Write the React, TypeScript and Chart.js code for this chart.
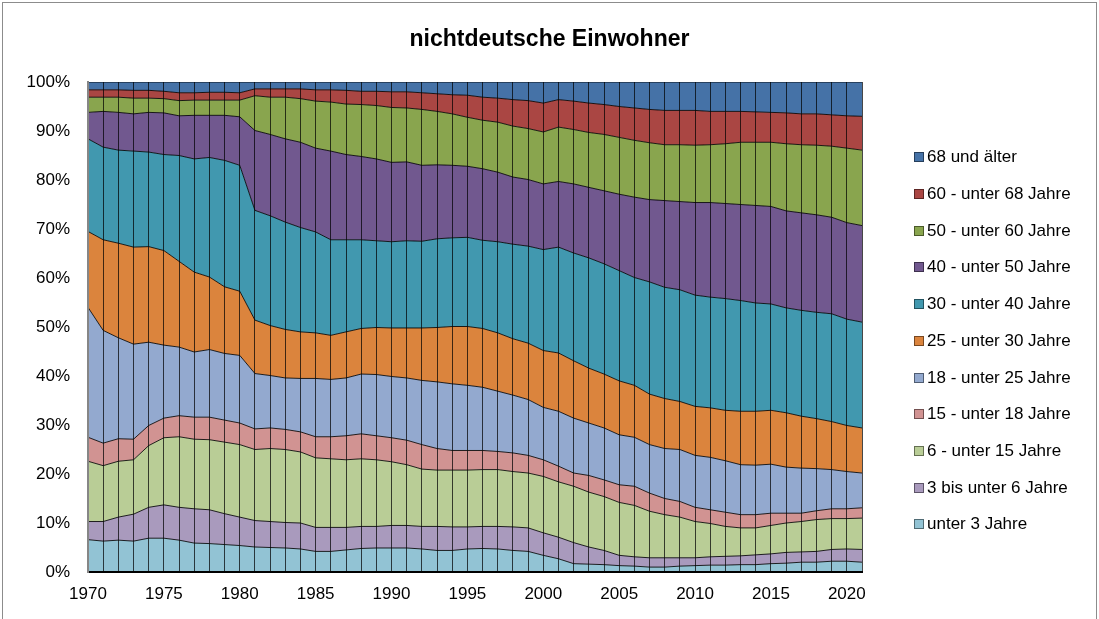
import React, { useEffect, useRef } from "react";
import { Chart, registerables } from "chart.js";

Chart.register(...registerables);

const years = [
  "1970", "1971", "1972", "1973", "1974", "1975", "1976", "1977", "1978", "1979",
  "1980", "1981", "1982", "1983", "1984", "1985", "1986", "1987", "1988", "1989",
  "1990", "1991", "1992", "1993", "1994", "1995", "1996", "1997", "1998", "1999",
  "2000", "2001", "2002", "2003", "2004", "2005", "2006", "2007", "2008", "2009",
  "2010", "2011", "2012", "2013", "2014", "2015", "2016", "2017", "2018", "2019",
  "2020", "2021",
];

const xTickLabels = ["1970", "1975", "1980", "1985", "1990", "1995", "2000", "2005", "2010", "2015", "2020"];

// Cumulative shares (%) = upper edge of each band
const cumUnter3 = [
  6.6, 6.3, 6.5, 6.3, 6.9, 6.9, 6.5, 5.9, 5.8, 5.6,
  5.4, 5.1, 5.0, 4.9, 4.7, 4.2, 4.2, 4.5, 4.8, 4.9,
  4.9, 4.9, 4.7, 4.4, 4.4, 4.7, 4.8, 4.7, 4.4, 4.2,
  3.4, 2.7, 1.7, 1.6, 1.5, 1.3, 1.2, 1.0, 1.0, 1.2,
  1.3, 1.4, 1.4, 1.5, 1.5, 1.7, 1.8, 2.0, 2.0, 2.2,
  2.2, 2.0,
];
const cum3bis6 = [
  10.3, 10.3, 11.2, 11.8, 13.2, 13.7, 13.2, 12.9, 12.7, 11.9,
  11.2, 10.5, 10.3, 10.1, 10.0, 9.1, 9.1, 9.1, 9.3, 9.3,
  9.5, 9.5, 9.3, 9.3, 9.2, 9.2, 9.3, 9.3, 9.2, 9.0,
  8.0, 7.1, 6.0, 5.1, 4.4, 3.4, 3.1, 2.9, 2.9, 2.9,
  2.9, 3.1, 3.2, 3.3, 3.5, 3.7, 4.0, 4.1, 4.2, 4.6,
  4.7, 4.6,
];
const cum6bis15 = [
  22.6, 21.7, 22.6, 22.9, 25.8, 27.4, 27.6, 27.1, 27.0, 26.5,
  26.0, 25.0, 25.2, 25.0, 24.5, 23.3, 23.1, 22.9, 23.1, 22.9,
  22.5, 21.9, 21.0, 20.8, 20.8, 20.8, 20.9, 20.9, 20.5, 20.2,
  19.5, 18.4, 17.5, 16.3, 15.4, 14.2, 13.6, 12.4, 11.7, 11.2,
  10.3, 9.9, 9.3, 9.0, 9.0, 9.5, 10.0, 10.3, 10.7, 10.9,
  10.9, 11.0,
];
const cum15bis18 = [
  27.5, 26.3, 27.2, 27.1, 29.9, 31.4, 31.9, 31.6, 31.6, 31.0,
  30.4, 29.2, 29.4, 29.1, 28.6, 27.6, 27.6, 27.8, 28.2, 27.8,
  27.4, 26.9, 26.0, 25.2, 24.8, 24.8, 24.8, 24.6, 24.3, 23.8,
  22.9, 21.6, 20.2, 19.7, 18.8, 17.8, 17.5, 16.1, 15.0, 14.4,
  13.2, 12.7, 12.2, 11.7, 11.7, 12.0, 12.0, 12.0, 12.5, 12.9,
  12.9, 13.1,
];
const cum18bis25 = [
  54.0, 49.3, 47.8, 46.5, 46.9, 46.3, 45.9, 44.9, 45.4, 44.6,
  44.2, 40.5, 40.1, 39.6, 39.5, 39.5, 39.3, 39.6, 40.4, 40.3,
  39.9, 39.6, 39.1, 38.8, 38.4, 38.1, 37.7, 36.9, 36.1, 35.2,
  33.6, 32.8, 31.4, 30.4, 29.4, 28.0, 27.5, 26.0, 25.2, 25.0,
  23.8, 23.4, 22.7, 21.9, 21.8, 22.0, 21.4, 21.2, 21.1, 20.9,
  20.5, 20.2,
];
const cum25bis30 = [
  69.5, 67.8, 67.1, 66.3, 66.4, 65.6, 63.4, 61.2, 60.2, 58.2,
  57.3, 51.4, 50.3, 49.5, 49.0, 48.8, 48.3, 49.0, 49.7, 49.9,
  49.8, 49.8, 49.8, 49.9, 50.1, 50.1, 49.7, 48.8, 47.6, 46.7,
  45.2, 44.7, 43.1, 41.6, 40.4, 39.0, 38.1, 36.3, 35.4, 34.8,
  33.8, 33.5, 33.0, 32.8, 32.8, 33.0, 32.5, 31.8, 31.3, 30.7,
  29.9, 29.4,
];
const cum30bis40 = [
  88.4, 86.7, 86.1, 85.9, 85.7, 85.2, 85.0, 84.3, 84.6, 84.0,
  83.0, 73.8, 72.7, 71.4, 70.3, 69.4, 67.8, 67.8, 67.8, 67.6,
  67.4, 67.6, 67.5, 68.0, 68.2, 68.3, 67.7, 67.4, 66.9, 66.5,
  65.8, 66.3, 65.1, 64.1, 62.9, 61.5, 60.1, 59.2, 58.1, 57.6,
  56.5, 56.1, 55.8, 55.4, 54.9, 54.7, 53.9, 53.4, 53.0, 52.7,
  51.6, 51.0,
];
const cum40bis50 = [
  93.8, 94.0, 93.8, 93.5, 93.8, 93.7, 93.1, 93.2, 93.2, 93.2,
  92.9, 90.1, 89.3, 88.4, 87.7, 86.5, 85.9, 85.2, 84.8, 84.3,
  83.6, 83.7, 83.0, 83.1, 83.0, 82.8, 82.3, 81.6, 80.6, 80.1,
  79.2, 79.7, 79.2, 78.5, 77.8, 77.1, 76.5, 76.0, 75.8, 75.6,
  75.4, 75.4, 75.2, 75.0, 74.8, 74.6, 73.7, 73.3, 72.9, 72.4,
  71.3, 70.7,
];
const cum50bis60 = [
  96.9, 96.9, 96.9, 96.7, 96.7, 96.6, 96.2, 96.3, 96.3, 96.3,
  96.3, 97.2, 96.9, 96.9, 96.6, 96.1, 95.9, 95.5, 95.4, 95.2,
  94.8, 94.7, 94.4, 94.0, 93.5, 92.8, 92.2, 91.8, 91.0, 90.5,
  89.8, 90.8, 90.3, 89.7, 89.3, 88.7, 88.1, 87.6, 87.2, 87.2,
  87.1, 87.2, 87.4, 87.7, 87.7, 87.7, 87.4, 87.2, 87.1, 86.9,
  86.5, 86.1,
];
const cum60bis68 = [
  98.4, 98.4, 98.4, 98.3, 98.3, 98.1, 97.8, 97.8, 97.9, 97.9,
  97.8, 98.6, 98.6, 98.6, 98.6, 98.4, 98.4, 98.3, 98.1, 98.1,
  98.0, 98.0, 97.8, 97.6, 97.4, 97.3, 96.9, 96.7, 96.4, 96.2,
  95.7, 96.4, 96.1, 95.7, 95.4, 95.0, 94.7, 94.4, 94.2, 94.2,
  94.2, 94.0, 94.0, 94.0, 93.9, 93.8, 93.7, 93.5, 93.5, 93.3,
  93.1, 93.0,
];
const cum68plus = [
  100, 100, 100, 100, 100, 100, 100, 100, 100, 100,
  100, 100, 100, 100, 100, 100, 100, 100, 100, 100,
  100, 100, 100, 100, 100, 100, 100, 100, 100, 100,
  100, 100, 100, 100, 100, 100, 100, 100, 100, 100,
  100, 100, 100, 100, 100, 100, 100, 100, 100, 100,
  100, 100,
];

const seriesNames = [
  "unter 3 Jahre",
  "3 bis unter 6 Jahre",
  "6 - unter 15 Jahre",
  "15 - unter 18 Jahre",
  "18 - unter 25 Jahre",
  "25 - unter 30 Jahre",
  "30 - unter 40 Jahre",
  "40 - unter 50 Jahre",
  "50 - unter 60 Jahre",
  "60 - unter 68 Jahre",
  "68 und älter",
];
const seriesData = [
  cumUnter3, cum3bis6, cum6bis15, cum15bis18, cum18bis25, cum25bis30,
  cum30bis40, cum40bis50, cum50bis60, cum60bis68, cum68plus,
];
const seriesColors = [
  "#92C3D4", "#A99ABD", "#B9CD96", "#D19392", "#93A9CF", "#DB843D",
  "#4198AF", "#71588F", "#89A54E", "#AA4643", "#4572A7",
];

const FONT = '"Liberation Sans", Arial, Helvetica, sans-serif';

export default function App() {
  const ref = useRef<HTMLCanvasElement | null>(null);

  useEffect(() => {
    if (!ref.current) return;
    const chart = new Chart(ref.current, {
      type: "line",
      data: {
        labels: years,
        datasets: seriesData.map((d, i) => ({
          label: seriesNames[i],
          data: d,
          fill: i === 0 ? "origin" : "-1",
          backgroundColor: seriesColors[i],
          borderColor: "rgba(0,0,0,0.85)",
          borderWidth: 1,
          pointRadius: 0,
          tension: 0,
        })),
      },
      options: {
        animation: false,
        responsive: false,
        layout: { padding: 0 },
        plugins: {
          legend: { display: false },
          tooltip: { enabled: false },
          title: {
            display: true,
            text: "nichtdeutsche Einwohner",
            color: "#000",
            font: { family: FONT, size: 23, weight: "bold" },
            padding: { top: 26, bottom: 28.4 },
          },
        },
        scales: {
          x: {
            offset: false,
            grid: {
              display: true,
              color: "rgba(0,0,0,0.72)",
              lineWidth: 1,
              drawTicks: false,
              z: 1,
            },
            border: { display: true, color: "#000", width: 2, z: 2 },
            ticks: {
              autoSkip: false,
              maxRotation: 0,
              minRotation: 0,
              padding: 12,
              color: "#000",
              font: { family: FONT, size: 17 },
              callback: (_v: any, idx: number) =>
                xTickLabels.includes(years[idx]) ? years[idx] : "",
            },
            afterFit: (s: any) => {
              s.height = 47;
            },
          },
          y: {
            min: 0,
            max: 100,
            grid: { display: false, drawTicks: false },
            border: { display: true, color: "#868686", width: 2, z: 2 },
            ticks: {
              stepSize: 10,
              padding: 18,
              color: "#000",
              font: { family: FONT, size: 17 },
              callback: (v: any) => v + "%",
            },
            afterFit: (s: any) => {
              s.width = 88;
            },
          },
          yRight: {
            type: "linear",
            position: "right",
            display: true,
            grid: { display: false, drawTicks: false },
            border: { display: false },
            ticks: { display: false },
            afterFit: (s: any) => {
              s.width = 237;
            },
          },
        },
      },
    });
    return () => chart.destroy();
  }, []);

  const legendOrder = seriesNames.map((n, i) => i).reverse();

  return (
    <div style={{ position: "absolute", left: 0, top: 0, width: 1099, height: 619, background: "#fff", overflow: "hidden" }}>
      <canvas ref={ref} width={1099} height={619} style={{ display: "block", width: 1099, height: 619 }} />
      <div
        style={{
          position: "absolute",
          left: 2,
          top: 2,
          width: 1095,
          height: 620,
          border: "1px solid #8c8c8c",
          boxSizing: "border-box",
          pointerEvents: "none",
        }}
      />
      {legendOrder.map((si, row) => (
        <div
          key={si}
          style={{
            position: "absolute",
            left: 914,
            top: 157.3 + row * 36.7 - 10,
            height: 20,
            display: "flex",
            alignItems: "center",
            fontFamily: FONT,
            fontSize: 17,
            color: "#000",
            whiteSpace: "nowrap",
          }}
        >
          <span
            style={{
              display: "inline-block",
              width: 10,
              height: 10,
              boxSizing: "border-box",
              background: seriesColors[si],
              border: "1px solid rgba(0,0,0,0.45)",
              marginRight: 3,
            }}
          />
          <span>{seriesNames[si]}</span>
        </div>
      ))}
    </div>
  );
}
